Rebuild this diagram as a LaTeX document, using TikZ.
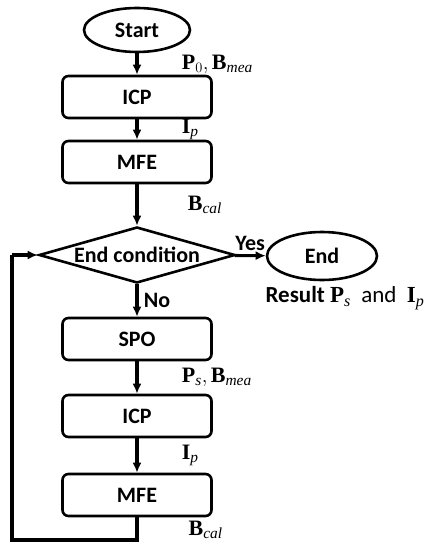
\documentclass[tikz,border=0pt]{standalone}
\usepackage{amsmath}
\usepackage{fontspec}
\setmainfont{Carlito}
\setmathrm{Liberation Serif}
\usepackage{tikz}
\usetikzlibrary{arrows.meta,positioning,calc,shapes.geometric}

\begin{document}
\begin{tikzpicture}[>={Latex[length=10pt,width=9pt]},x=1pt,y=-1pt,line width=2.6pt]
	\tikzstyle{every node}=[font=\fontsize{22}{26}\selectfont]

	\tikzset{terminal/.style = {shape=ellipse,draw,inner sep=0pt,font=\fontsize{22}{26}\selectfont\bfseries}}
	\tikzset{process/.style = {shape=rectangle,draw,rounded corners=6pt,minimum width=149pt,minimum height=42pt,font=\fontsize{22}{26}\selectfont\bfseries}}
	\tikzset{decision/.style = {shape=diamond,draw,aspect=3.5,inner sep=0pt,minimum width=196pt,minimum height=56pt,font=\fontsize{22}{26}\selectfont\bfseries}}
	\tikzset{flow/.style = {->,line width=3.1pt}}
	\useasboundingbox (0,0) rectangle (429,548);
	% vertices
	\node[terminal,minimum width=106pt,minimum height=44pt] (start) at (137,30) {Start};
	\node[process] (icpA) at (137,97) {ICP};
	\node[process] (mfeA) at (137,162) {MFE};
	\node[decision] (cond) at (137,255) {End condition};
	\node[terminal,minimum width=110pt,minimum height=48pt] (end) at (322,256) {End};
	\node[process] (spo) at (137,339) {SPO};
	\node[process] (icpB) at (137,416) {ICP};
	\node[process] (mfeB) at (137,495) {MFE};
	\coordinate (c1) at (137,540);
	\coordinate (c2) at (12,540);
	\coordinate (c3) at (12,255);
	%edges
	\path (start) edge[flow] node[anchor=west,xshift=40pt] {$\mathbf{P}_0,\mathbf{B}_{\mathit{mea}}$} (icpA);
	\path (icpA) edge[flow] node[anchor=west,xshift=40pt] {$\mathbf{I}_{\mathit{p}}$} (mfeA);
	\path (mfeA) edge[flow] node[anchor=west,xshift=46pt] {$\mathbf{B}_{\mathit{cal}}$} (cond);
	\path (cond) edge[flow] node[above,font=\fontsize{22}{26}\selectfont\bfseries] {Yes} (end);
	\path (cond) edge[flow] node[anchor=west,xshift=2pt,font=\fontsize{22}{26}\selectfont\bfseries] {No} (spo);
	\path (spo) edge[flow] node[anchor=west,xshift=40pt] {$\mathbf{P}_{\mathit{s}},\mathbf{B}_{\mathit{mea}}$} (icpB);
	\path (icpB) edge[flow] node[anchor=west,xshift=40pt] {$\mathbf{I}_{\mathit{p}}$} (mfeB);
	\draw[line width=3.1pt] (mfeB) -- (c1) -- (c2) -- (c3);
	\draw[flow] (c3) -- (cond.west);
	\node[font=\fontsize{23}{27}\selectfont] (result) at (345,298) {\textbf{Result} $\mathbf{P}_{\mathit{s}}$~ and ~$\mathbf{I}_{\mathit{p}}$};
	\node[anchor=west] (bcal) at (184,530) {$\mathbf{B}_{\mathit{cal}}$};

	\end{tikzpicture}
\end{document}
